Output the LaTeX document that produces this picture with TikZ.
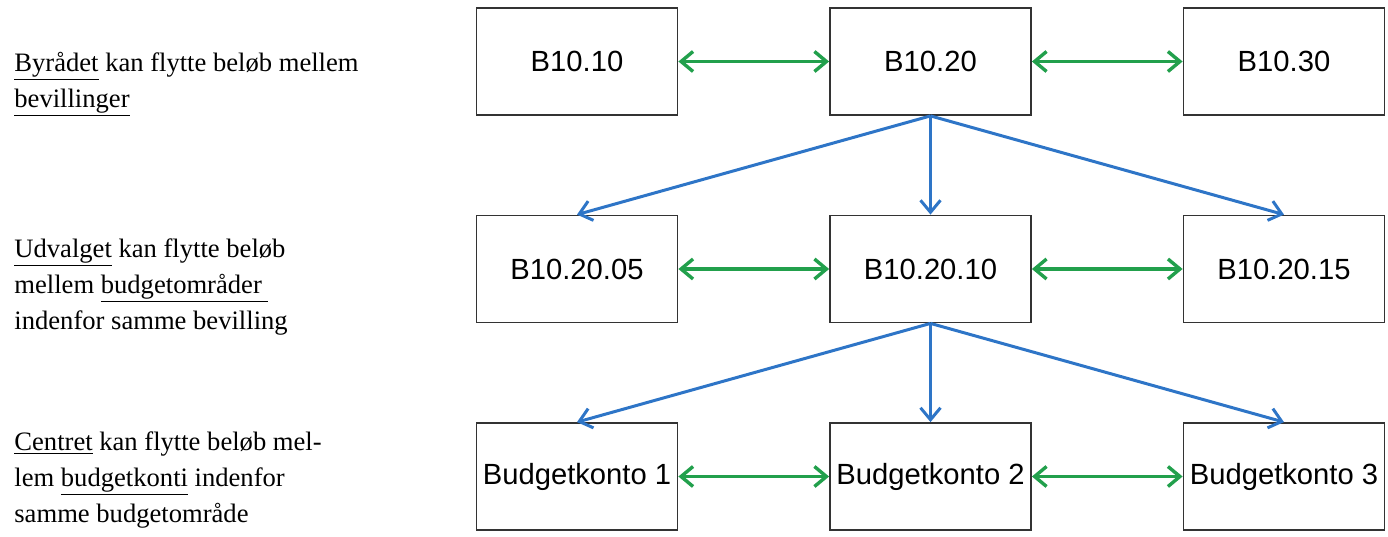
\documentclass[tikz,border=0pt]{standalone}
\usepackage{fontspec}
\setmainfont{Liberation Serif}
\newfontfamily\boxfont{Liberation Sans}
\usetikzlibrary{arrows.meta}

\definecolor{flytgreen}{RGB}{34,160,76}
\definecolor{nedblue}{RGB}{46,117,199}

\tikzset{
  konto/.style={draw=black!80, line width=0.9pt, fill=white,
    minimum width=100.5pt, minimum height=53.5pt, inner sep=0pt,
    font=\boxfont\fontsize{14.6}{17}\selectfont},
  flyt/.style={draw=flytgreen, line width=1.7pt,
    {Straight Barb[length=6pt,width=10pt]}-{Straight Barb[length=6pt,width=10pt]}},
  ned/.style={draw=nedblue, line width=1.5pt,
    -{Straight Barb[length=6pt,width=10pt]}},
  tekst/.style={anchor=base west, inner sep=0pt,
    font=\fontsize{13.3}{17}\selectfont}
}

\begin{document}
\begin{tikzpicture}[x=0.5pt,y=-0.5pt]

  \newcommand\X{353.5}
  \newcommand\Y{207.5}

  \useasboundingbox (0,0) rectangle (1388,536);

  %% left column text
  \node[tekst] (by1) at (14,71) {\underline{Byrådet} kan flytte beløb mellem};
  \node[tekst] (by2) at (14,107) {\underline{bevillinger}};

  \node[tekst] (ud1) at (14,257) {\underline{Udvalget} kan flytte beløb};
  \node[tekst] (ud2) at (14,293) {mellem \underline{budgetområder\ }};
  \node[tekst] (ud3) at (14,329) {indenfor samme bevilling};

  \node[tekst] (ce1) at (14,450) {\underline{Centret} kan flytte beløb mel-};
  \node[tekst] (ce2) at (14,486) {lem \underline{budgetkonti} indenfor};
  \node[tekst] (ce3) at (14,522) {samme budgetområde};

  %% boxes
  \node[konto] (b10)   at (577,61.5) {B10.10};
  \node[konto] (b20)   at (577+\X,61.5) {B10.20};
  \node[konto] (b30)   at (577+2*\X,61.5) {B10.30};

  \node[konto] (b2005) at (577,61.5+\Y) {B10.20.05};
  \node[konto] (b2010) at (577+\X,61.5+\Y) {B10.20.10};
  \node[konto] (b2015) at (577+2*\X,61.5+\Y) {B10.20.15};

  \node[konto] (k1)    at (577,61.5+2*\Y) {Budgetkonto 1};
  \node[konto] (k2)    at (577+\X,61.5+2*\Y) {Budgetkonto 2};
  \node[konto] (k3)    at (577+2*\X,61.5+2*\Y) {Budgetkonto 3};

  %% sideways moves
  \draw[flyt] (b10.east) -- (b20.west);
  \draw[flyt] (b20.east) -- (b30.west);
  \draw[flyt] (b2005.east) -- (b2010.west);
  \draw[flyt] (b2010.east) -- (b2015.west);
  \draw[flyt] (k1.east) -- (k2.west);
  \draw[flyt] (k2.east) -- (k3.west);

  %% downwards
  \draw[ned] (b20.south) -- (b2005.north); %% 20 -> 05
  \draw[ned] (b20.south) -- (b2010.north); %% 20 -> 10
  \draw[ned] (b20.south) -- (b2015.north); %% 20 -> 15
  \draw[ned] (b2010.south) -- (k1.north);
  \draw[ned] (b2010.south) -- (k2.north);
  \draw[ned] (b2010.south) -- (k3.north);

\end{tikzpicture}
\end{document}
